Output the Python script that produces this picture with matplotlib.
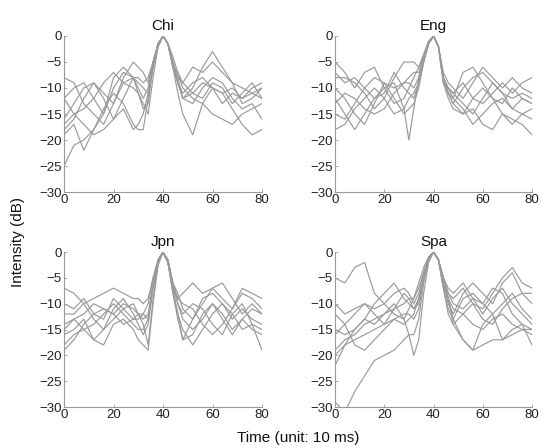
import matplotlib
matplotlib.use("Agg")
import matplotlib.pyplot as plt

# common time grid (unit: 10 ms)
time_points = [0, 4, 8, 12, 16, 20, 24, 28, 30, 32, 34, 36, 38, 40, 42, 44, 46, 48,
               52, 56, 60, 64, 68, 72, 76, 80]

titles = ["Chi", "Eng", "Jpn", "Spa"]

chi_lines = [
    [-25, -21, -20, -18, -15, -10, -7, -8, -10, -12, -10, -5, -1.5, 0, -1.5, -5, -9, -12, -10, -6, -3, -6, -9, -13, -12, -10],
    [-19, -17, -22, -18, -14, -11, -13, -17, -18, -18, -12, -5, -1.5, 0, -1.5, -6, -11, -15, -19, -13, -10, -11, -14, -17, -19, -18],
    [-12, -10, -9, -12, -15, -8, -6, -8, -11, -14, -13, -6, -2, 0, -1.5, -5, -8, -9, -6, -7, -5, -7, -9, -10, -11, -10],
    [-8, -9, -13, -15, -17, -13, -9, -8, -9, -10, -11, -6, -2, 0, -1.5, -6, -9, -11, -9, -8, -10, -11, -10, -12, -10, -9],
    [-16, -13, -10, -9, -11, -13, -8, -5, -6, -7, -9, -5, -1.5, 0, -1.5, -5, -8, -12, -13, -10, -8, -9, -12, -14, -13, -16],
    [-17, -15, -17, -19, -18, -16, -14, -18, -17, -15, -11, -6, -2, 0, -1.5, -6, -9, -12, -11, -9, -10, -13, -11, -12, -11, -12],
    [-12, -15, -14, -12, -9, -7, -9, -10, -11, -13, -15, -8, -2, 0, -1.5, -6, -7, -9, -11, -12, -9, -10, -13, -11, -9, -12],
    [-18, -16, -12, -9, -12, -16, -12, -8, -8, -9, -8, -5, -1.5, 0, -1.5, -4, -7, -10, -12, -13, -15, -16, -17, -15, -14, -13],
]

eng_lines = [
    [-5, -7, -10, -7, -6, -10, -13, -12, -10, -8, -6, -4, -1.2, 0, -2, -8, -10, -11, -9, -12, -13, -11, -9, -11, -9, -8],
    [-8, -8, -9, -11, -14, -12, -8, -5, -5, -5, -6, -3.5, -1, 0, -2, -8, -10, -12, -7, -6, -9, -12, -13, -10, -12, -13],
    [-12, -15, -18, -15, -12, -10, -9, -14, -20, -14, -8, -4, -1.2, 0, -2, -9, -10, -11, -13, -15, -12, -9, -11, -14, -15, -16],
    [-18, -17, -14, -12, -10, -12, -15, -14, -12, -11, -9, -5, -1.5, 0, -2, -8, -11, -13, -10, -8, -7, -9, -11, -12, -11, -12],
    [-15, -16, -13, -10, -8, -9, -10, -9, -9, -10, -8, -4, -1.2, 0, -2, -9, -12, -14, -15, -12, -10, -12, -15, -16, -17, -19],
    [-10, -12, -15, -17, -13, -9, -12, -15, -14, -13, -10, -5, -1.5, 0, -2, -8, -11, -12, -14, -17, -15, -13, -12, -14, -12, -13],
    [-7, -9, -8, -10, -12, -11, -7, -10, -11, -12, -9, -5, -1.5, 0, -2, -7, -9, -10, -12, -9, -6, -8, -10, -8, -10, -11],
    [-13, -11, -12, -14, -15, -14, -11, -9, -8, -7, -7, -4, -1.2, 0, -2, -9, -11, -13, -15, -14, -17, -18, -15, -17, -15, -14],
]

jpn_lines = [
    [-7, -8, -10, -9, -8, -7, -8, -9, -9, -10, -9, -5, -1.5, 0, -1.5, -6, -9, -8, -6, -8, -7, -9, -11, -7, -8, -9],
    [-10, -11, -9, -12, -13, -9, -11, -13, -13, -12, -10, -5, -1.5, 0, -1.5, -6, -8, -11, -13, -10, -7, -6, -9, -12, -10, -12],
    [-12, -12, -10, -13, -15, -11, -9, -12, -14, -16, -14, -7, -2, 0, -2, -7, -12, -17, -13, -9, -8, -10, -13, -11, -13, -14],
    [-14, -13, -15, -14, -12, -10, -12, -14, -15, -15, -13, -6, -2, 0, -2, -6, -10, -13, -15, -13, -10, -12, -15, -13, -11, -12],
    [-16, -15, -13, -17, -15, -13, -11, -10, -12, -14, -18, -9, -2.5, 0, -2, -8, -12, -15, -18, -15, -12, -10, -12, -15, -14, -15],
    [-18, -16, -15, -17, -18, -14, -13, -15, -17, -18, -19, -10, -2.5, 0, -2, -8, -13, -17, -16, -12, -10, -13, -16, -13, -15, -16],
    [-19, -17, -14, -12, -11, -12, -14, -13, -12, -12, -13, -7, -2, 0, -2, -7, -10, -12, -10, -11, -14, -16, -12, -10, -14, -19],
    [-15, -13, -12, -10, -11, -12, -10, -11, -12, -13, -12, -6, -1.5, 0, -2, -7, -9, -10, -11, -14, -16, -14, -11, -8, -9, -11],
]

spa_lines = [
    [-5, -6, -3, -2, -8, -10, -12, -13, -11, -9, -6, -3, -1, 0, -1.5, -5, -8, -9, -7, -10, -11, -8, -5, -3, -6, -7],
    [-29, -31, -27, -24, -21, -20, -19, -17, -16, -16, -13, -6, -1.5, 0, -1.5, -6, -9, -13, -17, -19, -18, -17, -17, -16, -15, -16],
    [-22, -18, -15, -13, -14, -12, -10, -13, -16, -20, -17, -8, -2, 0, -1.5, -5, -9, -14, -17, -19, -14, -12, -17, -15, -14, -18],
    [-16, -14, -12, -10, -11, -10, -8, -7, -8, -10, -8, -4, -1, 0, -1.5, -6, -10, -12, -8, -6, -8, -10, -6, -4, -8, -10],
    [-15, -16, -15, -13, -10, -8, -6, -9, -10, -11, -9, -5, -1.5, 0, -1.5, -7, -11, -13, -9, -8, -10, -12, -10, -8, -11, -13],
    [-19, -17, -16, -14, -13, -12, -11, -10, -9, -9, -7, -4, -1, 0, -1.5, -5, -7, -8, -6, -9, -12, -9, -7, -10, -12, -14],
    [-10, -12, -11, -10, -12, -14, -11, -8, -9, -11, -10, -5, -1.5, 0, -1.5, -7, -12, -14, -12, -10, -13, -14, -11, -9, -8, -8],
    [-20, -18, -17, -16, -15, -14, -13, -12, -12, -13, -11, -5, -1.5, 0, -1.5, -6, -9, -11, -12, -14, -15, -13, -12, -14, -15, -15],
    [-12, -14, -18, -19, -17, -15, -13, -14, -13, -12, -9, -5, -1.5, 0, -1.5, -5, -8, -10, -11, -9, -10, -7, -8, -12, -14, -15],
]

x_ticks = [0, 20, 40, 60, 80]
y_ticks = [0, -5, -10, -15, -20, -25, -30]

panels = [chi_lines, eng_lines, jpn_lines, spa_lines]

plt.rcParams['font.family'] = ['Liberation Sans', 'DejaVu Sans']

fig = plt.figure(figsize=(5.43, 4.48), dpi=100)
W, H = 543, 448
boxes = [
    (64, 36, 262, 192),
    (335, 36, 532, 192),
    (64, 252, 262, 407),
    (335, 252, 532, 407),
]

for (l, t, r, b), lines, title in zip(boxes, panels, titles):
    ax = fig.add_axes([l / W, 1 - b / H, (r - l) / W, (b - t) / H])
    for ys in lines:
        ax.plot(time_points, ys, color='#9a9a9a', lw=0.85, clip_on=True)
    ax.set_xlim(0, 80)
    ax.set_ylim(-30, 0)
    ax.set_xticks(x_ticks)
    ax.set_yticks(y_ticks)
    ax.set_xticklabels([str(v) for v in x_ticks])
    ax.set_yticklabels([str(v).replace('-', '\u2212') for v in y_ticks])
    for s in ['top', 'right']:
        ax.spines[s].set_visible(False)
    for s in ['left', 'bottom']:
        ax.spines[s].set_color('#999999')
        ax.spines[s].set_linewidth(0.8)
    ax.tick_params(direction='in', length=2, width=0.6, colors='#999999',
                   labelcolor='#222222', labelsize=9.5, pad=1.5)
    ax.set_title(title, fontsize=11, pad=4, color='#111111')

fig.text(18 / W, 1 - 242 / H, 'Intensity (dB)', rotation=90, ha='center', va='center',
         fontsize=11, color='#111111')
fig.text(298 / W, 1 - 438 / H, 'Time (unit: 10 ms)', ha='center', va='center',
         fontsize=11, color='#111111')

fig.savefig('out.png', dpi=100)
